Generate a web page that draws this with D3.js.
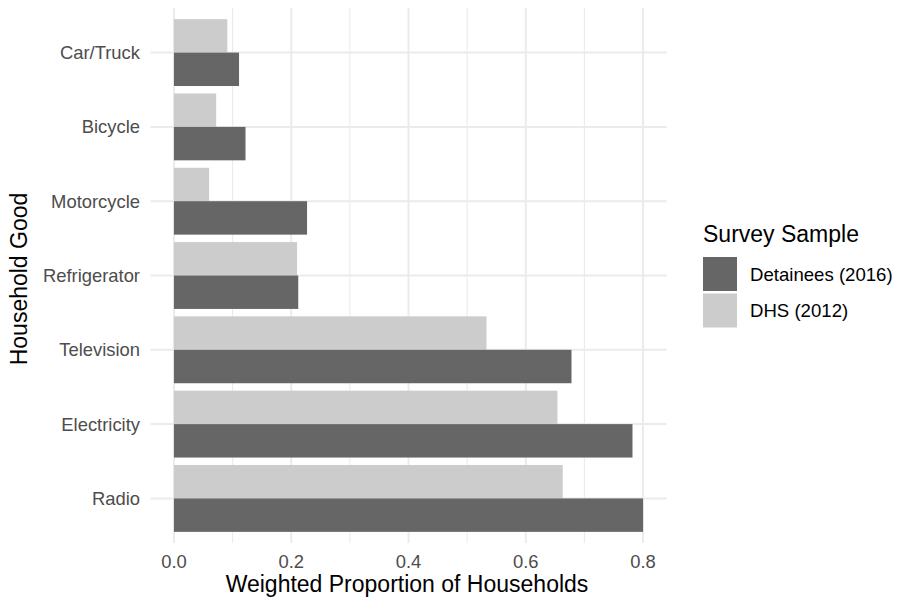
<!DOCTYPE html>
<html>
<head>
<meta charset="utf-8">
<script src="https://cdn.jsdelivr.net/npm/d3@7"></script>
<style>
body { margin: 0; background: #fff; }
text { font-family: "Liberation Sans", Arial, Helvetica, sans-serif; }
</style>
</head>
<body>
<svg id="chart" width="901" height="600"></svg>
<script>
const categories = ["Car/Truck", "Bicycle", "Motorcycle", "Refrigerator", "Television", "Electricity", "Radio"];
const seriesNames = ["Detainees (2016)", "DHS (2012)"];
const detainees = [0.111, 0.122, 0.227, 0.212, 0.678, 0.782, 0.800];
const dhs = [0.091, 0.072, 0.060, 0.210, 0.533, 0.654, 0.663];
const xTicks = [0.0, 0.2, 0.4, 0.6, 0.8];
const minorTicks = [0.1, 0.3, 0.5, 0.7];
const colors = ["#666666", "#CCCCCC"];

const svg = d3.select("#chart");
const panel = { left: 150.5, right: 666.5, top: 8, bottom: 543 };

const x = d3.scaleLinear().domain([-0.04, 0.84]).range([panel.left, panel.right]);
// discrete scale with 0.6-unit expansion on each side
const y = d3.scalePoint().domain(categories)
  .range([panel.top, panel.bottom]).padding(0.6);
const step = y.step();
const barH = 0.45 * step;

const g = svg.append("g");

// minor gridlines
g.selectAll(".minor").data(minorTicks).join("line")
  .attr("x1", d => x(d)).attr("x2", d => x(d))
  .attr("y1", panel.top).attr("y2", panel.bottom)
  .attr("stroke", "#EBEBEB").attr("stroke-width", 1.1);
// major gridlines
g.selectAll(".majx").data(xTicks).join("line")
  .attr("x1", d => x(d)).attr("x2", d => x(d))
  .attr("y1", panel.top).attr("y2", panel.bottom)
  .attr("stroke", "#EBEBEB").attr("stroke-width", 2);
g.selectAll(".majy").data(categories).join("line")
  .attr("x1", panel.left).attr("x2", panel.right)
  .attr("y1", d => y(d)).attr("y2", d => y(d))
  .attr("stroke", "#EBEBEB").attr("stroke-width", 2);

// bars: DHS above (light), Detainees below (dark)
const rows = [];
categories.forEach((c, i) => {
  rows.push({ cat: c, s: 1, v: dhs[i], off: -barH });
  rows.push({ cat: c, s: 0, v: detainees[i], off: 0 });
});
g.selectAll(".bar").data(rows).join("rect")
  .attr("x", x(0))
  .attr("y", d => y(d.cat) + d.off)
  .attr("width", d => x(d.v) - x(0))
  .attr("height", barH)
  .attr("fill", d => colors[d.s]);

// x axis labels
g.selectAll(".xt").data(xTicks).join("text")
  .attr("x", d => x(d)).attr("y", 568)
  .attr("text-anchor", "middle")
  .attr("fill", "#4D4D4D").attr("font-size", 18.4)
  .text(d => d3.format(".1f")(d));

// y axis labels
g.selectAll(".yt").data(categories).join("text")
  .attr("x", 140).attr("y", d => y(d) + 6.6)
  .attr("text-anchor", "end")
  .attr("fill", "#4D4D4D").attr("font-size", 18.4)
  .text(d => d);

// axis titles
svg.append("text")
  .attr("x", 407).attr("y", 592)
  .attr("text-anchor", "middle").attr("fill", "#000").attr("font-size", 23)
  .text("Weighted Proportion of Households");
svg.append("text")
  .attr("transform", `translate(27.3,279) rotate(-90)`)
  .attr("text-anchor", "middle").attr("fill", "#000").attr("font-size", 23)
  .text("Household Good");

// legend
const lg = svg.append("g");
lg.append("text").attr("x", 703).attr("y", 241.7).attr("font-size", 23).attr("fill", "#000")
  .text("Survey Sample");
lg.selectAll(".key").data(seriesNames).join("rect")
  .attr("x", 703).attr("y", (d, i) => 257 + i * 36.5)
  .attr("width", 34).attr("height", 34)
  .attr("fill", (d, i) => colors[i]);
lg.selectAll(".lt").data(seriesNames).join("text")
  .attr("x", 750).attr("y", (d, i) => 280.7 + i * 36.5)
  .attr("font-size", 18.6).attr("fill", "#000")
  .text(d => d);
</script>
</body>
</html>
